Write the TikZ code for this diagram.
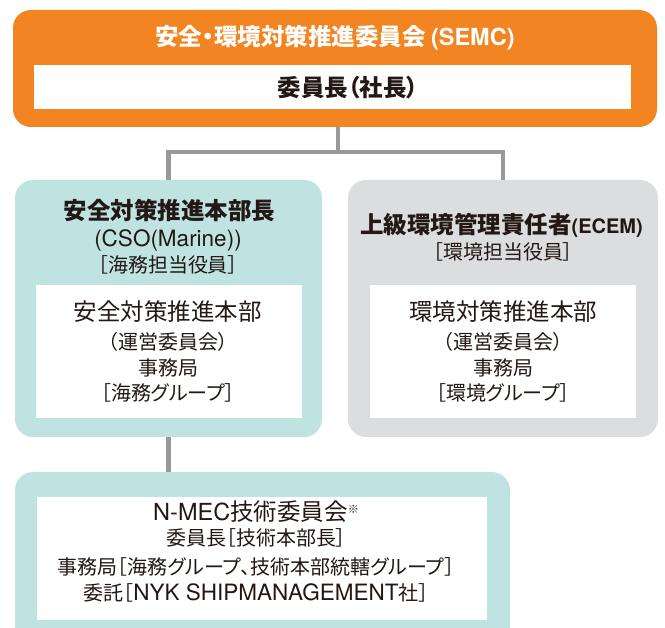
\documentclass[tikz,border=0pt]{standalone}
\usepackage{fontspec}
\setmainfont{Noto Sans CJK JP}[RawFeature=+palt]
\newfontfamily\latfont{TeX Gyre Heros}
\newcommand\Ls[1]{{\latfont\fontsize{22.5}{24}\selectfont #1}}
\newcommand\Lb[1]{{\latfont\fontsize{23.5}{26}\selectfont #1}}
\newcommand\Lbb[1]{{\latfont\bfseries\fontsize{20}{22}\selectfont #1}}
\newcommand\Lt[1]{{\latfont\bfseries\fontsize{23.5}{26}\selectfont #1}}
\definecolor{semcorange}{RGB}{242,133,34}
\definecolor{tealbox}{RGB}{190,227,225}
\definecolor{graybox}{RGB}{220,221,222}
\definecolor{linegray}{RGB}{152,153,155}
\definecolor{ink}{RGB}{35,24,21}
\begin{document}
\begin{tikzpicture}[x=1pt,y=-1pt,
  box/.style={rounded corners=18pt, inner sep=0pt, outer sep=0pt},
  obox/.style={box, fill=semcorange},
  tbox/.style={box, fill=tealbox},
  gbox/.style={box, fill=graybox},
  wbox/.style={fill=white, inner sep=0pt, outer sep=0pt},
  title/.style={font=\fontsize{23.5}{28}\selectfont\bfseries, text=white, inner sep=0pt},
  bigb/.style={font=\fontsize{23.5}{28}\selectfont\bfseries, text=ink, inner sep=0pt},
  big/.style={font=\fontsize{23.5}{28}\selectfont, text=ink, inner sep=0pt},
  small/.style={font=\fontsize{20}{24}\selectfont, text=ink, inner sep=0pt},
  conn/.style={draw=linegray, line width=4.5pt}]
\useasboundingbox (0,0) rectangle (665,628);
\clip (0,0) rectangle (665,628);

% top committee
\node[obox, minimum width=644pt, minimum height=117pt] (semc) at (335,68.5) {};
\node[wbox, minimum width=597pt, minimum height=44pt] (semcw) at (332.5,87) {};
\node[title] (semct) at (335,38) {安全・環境対策推進委員会 \Lt{(SEMC)}};
\node[bigb] (pres) at (348,88) {委員長（社長）};

% CSO box
\node[tbox, minimum width=307pt, minimum height=257pt] (cso) at (168.5,308.5) {};
\node[wbox, minimum width=266pt, minimum height=133pt] (csow) at (169,351.5) {};
\node[bigb] (csot) at (169.5,210) {安全対策推進本部長};
\node[small] (csot2) at (168,240) {\Ls{(CSO(Marine))}};
\node[small] (csot3) at (168,265) {［海務担当役員］};
\node[big] (csow1) at (168,312) {安全対策推進本部};
\node[small] (csow2) at (168,342) {（運営委員会）};
\node[small] (csow3) at (168,368) {事務局};
\node[small] (csow4) at (168,393) {［海務グループ］};

% ECEM box
\node[gbox, minimum width=310pt, minimum height=257pt] (ecem) at (503,308.5) {};
\node[wbox, minimum width=266pt, minimum height=133pt] (ecemw) at (503,351.5) {};
\node[bigb] (ecemt) at (501.5,225) {上級環境管理責任者\Lbb{(ECEM)}};
\node[small] (ecemt2) at (503,252) {［環境担当役員］};
\node[big] (ecemw1) at (503,312) {環境対策推進本部};
\node[small] (ecemw2) at (503,342) {（運営委員会）};
\node[small] (ecemw3) at (503,368) {事務局};
\node[small] (ecemw4) at (503,393) {［環境グループ］};

% N-MEC box
\node[tbox, minimum width=495pt, minimum height=176pt] (nmec) at (262.5,560) {};
\node[wbox, minimum width=450pt, minimum height=123pt] (nmecw) at (262,558.5) {};
\node[big] (nmec1) at (256,512) {\Lb{N-MEC}技術委員会{\fontsize{11}{12}\selectfont\raisebox{7pt}{※}}};
\node[small] (nmec2) at (256,538) {委員長［技術本部長］};
\node[small] (nmec3) at (256,567) {事務局［海務グループ、技術本部統轄グループ］};
\node[small] (nmec4) at (256,593) {委託［\Ls{NYK SHIPMANAGEMENT}社］};

% connectors
\coordinate (j) at (338,152);
\draw[conn] (semc.south -| j) -- (j);
\draw[conn] (cso.north) |- (j) -| (ecem.north);
\draw[conn] (cso.south) -- (nmec.north -| cso.south);
\end{tikzpicture}
\end{document}
